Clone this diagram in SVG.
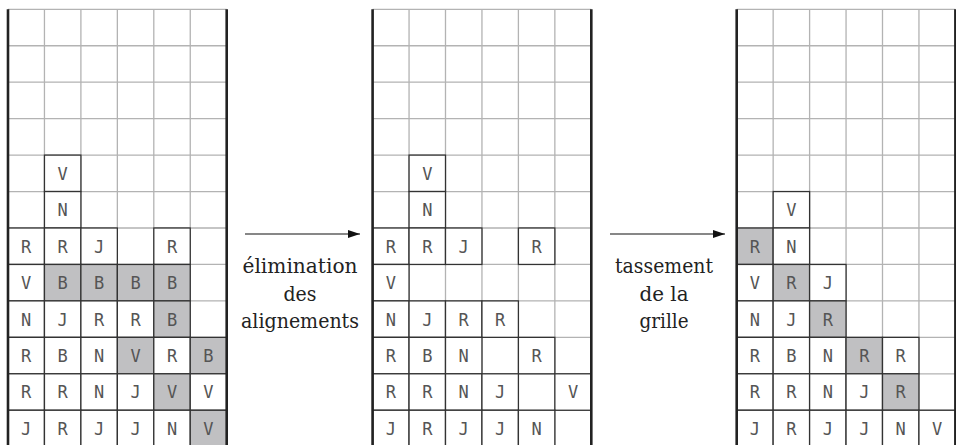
<svg xmlns="http://www.w3.org/2000/svg" width="956" height="445" viewBox="0 0 956 445">
<style>
.bg{fill:#ffffff}
.grid{fill:none;stroke:#b3b3b3;stroke-width:1.3}
.wall{fill:none;stroke:#222;stroke-width:2.6}
.c{fill:#ffffff;stroke:#333;stroke-width:1.3}
.g{fill:#c0c0c2;stroke:#333;stroke-width:1.3}
.t{font-family:'DejaVu Sans Mono',monospace;font-size:17px;fill:#555;text-anchor:middle}
.lbl{font-family:'DejaVu Serif',serif;font-size:20px;fill:#222;text-anchor:middle}
.arr{stroke:#111;stroke-width:1.2;fill:none}
</style>
<defs>
<marker id="ah" markerWidth="12" markerHeight="8" refX="12" refY="4" orient="auto" markerUnits="userSpaceOnUse">
<path d="M0,0 L12,4 L0,8 Z" fill="#111"/>
</marker>
<path id="gl" d="M36.45,0V440M72.9,0V440M109.35,0V440M145.8,0V440M182.25,0V440M0,0H218.7M0,36.45H218.7M0,72.9H218.7M0,109.35H218.7M0,145.8H218.7M0,182.25H218.7M0,218.7H218.7M0,255.15H218.7M0,291.6H218.7M0,328.05H218.7M0,364.5H218.7M0,400.95H218.7M0,437.4H218.7"/>
</defs>
<rect class="bg" x="0" y="0" width="956" height="445"/>

<g id="grid1" transform="translate(8,9.3)">
<use href="#gl" class="grid"/>
<g id="g1-cells">
<rect class="c" x="36.45" y="145.8" width="36.45" height="36.45"/><text class="t" x="54.675" y="170.5">V</text>
<rect class="c" x="36.45" y="182.25" width="36.45" height="36.45"/><text class="t" x="54.675" y="206.95">N</text>
<rect class="c" x="0" y="218.7" width="36.45" height="36.45"/><text class="t" x="18.225" y="243.4">R</text>
<rect class="c" x="36.45" y="218.7" width="36.45" height="36.45"/><text class="t" x="54.675" y="243.4">R</text>
<rect class="c" x="72.9" y="218.7" width="36.45" height="36.45"/><text class="t" x="91.125" y="243.4">J</text>
<rect class="c" x="145.8" y="218.7" width="36.45" height="36.45"/><text class="t" x="164.025" y="243.4">R</text>
<rect class="c" x="0" y="255.15" width="36.45" height="36.45"/><text class="t" x="18.225" y="279.85">V</text>
<rect class="g" x="36.45" y="255.15" width="36.45" height="36.45"/><text class="t" x="54.675" y="279.85">B</text>
<rect class="g" x="72.9" y="255.15" width="36.45" height="36.45"/><text class="t" x="91.125" y="279.85">B</text>
<rect class="g" x="109.35" y="255.15" width="36.45" height="36.45"/><text class="t" x="127.575" y="279.85">B</text>
<rect class="g" x="145.8" y="255.15" width="36.45" height="36.45"/><text class="t" x="164.025" y="279.85">B</text>
<rect class="c" x="0" y="291.6" width="36.45" height="36.45"/><text class="t" x="18.225" y="316.3">N</text>
<rect class="c" x="36.45" y="291.6" width="36.45" height="36.45"/><text class="t" x="54.675" y="316.3">J</text>
<rect class="c" x="72.9" y="291.6" width="36.45" height="36.45"/><text class="t" x="91.125" y="316.3">R</text>
<rect class="c" x="109.35" y="291.6" width="36.45" height="36.45"/><text class="t" x="127.575" y="316.3">R</text>
<rect class="g" x="145.8" y="291.6" width="36.45" height="36.45"/><text class="t" x="164.025" y="316.3">B</text>
<rect class="c" x="0" y="328.05" width="36.45" height="36.45"/><text class="t" x="18.225" y="352.75">R</text>
<rect class="c" x="36.45" y="328.05" width="36.45" height="36.45"/><text class="t" x="54.675" y="352.75">B</text>
<rect class="c" x="72.9" y="328.05" width="36.45" height="36.45"/><text class="t" x="91.125" y="352.75">N</text>
<rect class="g" x="109.35" y="328.05" width="36.45" height="36.45"/><text class="t" x="127.575" y="352.75">V</text>
<rect class="c" x="145.8" y="328.05" width="36.45" height="36.45"/><text class="t" x="164.025" y="352.75">R</text>
<rect class="g" x="182.25" y="328.05" width="36.45" height="36.45"/><text class="t" x="200.475" y="352.75">B</text>
<rect class="c" x="0" y="364.5" width="36.45" height="36.45"/><text class="t" x="18.225" y="389.2">R</text>
<rect class="c" x="36.45" y="364.5" width="36.45" height="36.45"/><text class="t" x="54.675" y="389.2">R</text>
<rect class="c" x="72.9" y="364.5" width="36.45" height="36.45"/><text class="t" x="91.125" y="389.2">N</text>
<rect class="c" x="109.35" y="364.5" width="36.45" height="36.45"/><text class="t" x="127.575" y="389.2">J</text>
<rect class="g" x="145.8" y="364.5" width="36.45" height="36.45"/><text class="t" x="164.025" y="389.2">V</text>
<rect class="c" x="182.25" y="364.5" width="36.45" height="36.45"/><text class="t" x="200.475" y="389.2">V</text>
<rect class="c" x="0" y="400.95" width="36.45" height="36.45"/><text class="t" x="18.225" y="425.65">J</text>
<rect class="c" x="36.45" y="400.95" width="36.45" height="36.45"/><text class="t" x="54.675" y="425.65">R</text>
<rect class="c" x="72.9" y="400.95" width="36.45" height="36.45"/><text class="t" x="91.125" y="425.65">J</text>
<rect class="c" x="109.35" y="400.95" width="36.45" height="36.45"/><text class="t" x="127.575" y="425.65">J</text>
<rect class="c" x="145.8" y="400.95" width="36.45" height="36.45"/><text class="t" x="164.025" y="425.65">N</text>
<rect class="g" x="182.25" y="400.95" width="36.45" height="36.45"/><text class="t" x="200.475" y="425.65">V</text>
</g>
<path class="wall" d="M0,0V440M218.7,0V440"/>
</g>

<g id="grid2" transform="translate(372.6,9.3)">
<use href="#gl" class="grid"/>
<g id="g2-cells">
<rect class="c" x="36.45" y="145.8" width="36.45" height="36.45"/><text class="t" x="54.675" y="170.5">V</text>
<rect class="c" x="36.45" y="182.25" width="36.45" height="36.45"/><text class="t" x="54.675" y="206.95">N</text>
<rect class="c" x="0" y="218.7" width="36.45" height="36.45"/><text class="t" x="18.225" y="243.4">R</text>
<rect class="c" x="36.45" y="218.7" width="36.45" height="36.45"/><text class="t" x="54.675" y="243.4">R</text>
<rect class="c" x="72.9" y="218.7" width="36.45" height="36.45"/><text class="t" x="91.125" y="243.4">J</text>
<rect class="c" x="145.8" y="218.7" width="36.45" height="36.45"/><text class="t" x="164.025" y="243.4">R</text>
<rect class="c" x="0" y="255.15" width="36.45" height="36.45"/><text class="t" x="18.225" y="279.85">V</text>
<rect class="c" x="0" y="291.6" width="36.45" height="36.45"/><text class="t" x="18.225" y="316.3">N</text>
<rect class="c" x="36.45" y="291.6" width="36.45" height="36.45"/><text class="t" x="54.675" y="316.3">J</text>
<rect class="c" x="72.9" y="291.6" width="36.45" height="36.45"/><text class="t" x="91.125" y="316.3">R</text>
<rect class="c" x="109.35" y="291.6" width="36.45" height="36.45"/><text class="t" x="127.575" y="316.3">R</text>
<rect class="c" x="0" y="328.05" width="36.45" height="36.45"/><text class="t" x="18.225" y="352.75">R</text>
<rect class="c" x="36.45" y="328.05" width="36.45" height="36.45"/><text class="t" x="54.675" y="352.75">B</text>
<rect class="c" x="72.9" y="328.05" width="36.45" height="36.45"/><text class="t" x="91.125" y="352.75">N</text>
<rect class="c" x="145.8" y="328.05" width="36.45" height="36.45"/><text class="t" x="164.025" y="352.75">R</text>
<rect class="c" x="0" y="364.5" width="36.45" height="36.45"/><text class="t" x="18.225" y="389.2">R</text>
<rect class="c" x="36.45" y="364.5" width="36.45" height="36.45"/><text class="t" x="54.675" y="389.2">R</text>
<rect class="c" x="72.9" y="364.5" width="36.45" height="36.45"/><text class="t" x="91.125" y="389.2">N</text>
<rect class="c" x="109.35" y="364.5" width="36.45" height="36.45"/><text class="t" x="127.575" y="389.2">J</text>
<rect class="c" x="182.25" y="364.5" width="36.45" height="36.45"/><text class="t" x="200.475" y="389.2">V</text>
<rect class="c" x="0" y="400.95" width="36.45" height="36.45"/><text class="t" x="18.225" y="425.65">J</text>
<rect class="c" x="36.45" y="400.95" width="36.45" height="36.45"/><text class="t" x="54.675" y="425.65">R</text>
<rect class="c" x="72.9" y="400.95" width="36.45" height="36.45"/><text class="t" x="91.125" y="425.65">J</text>
<rect class="c" x="109.35" y="400.95" width="36.45" height="36.45"/><text class="t" x="127.575" y="425.65">J</text>
<rect class="c" x="145.8" y="400.95" width="36.45" height="36.45"/><text class="t" x="164.025" y="425.65">N</text>
</g>
<path class="wall" d="M0,0V440M218.7,0V440"/>
</g>

<g id="grid3" transform="translate(736.7,9.3)">
<use href="#gl" class="grid"/>
<g id="g3-cells">
<rect class="c" x="36.45" y="182.25" width="36.45" height="36.45"/><text class="t" x="54.675" y="206.95">V</text>
<rect class="g" x="0" y="218.7" width="36.45" height="36.45"/><text class="t" x="18.225" y="243.4">R</text>
<rect class="c" x="36.45" y="218.7" width="36.45" height="36.45"/><text class="t" x="54.675" y="243.4">N</text>
<rect class="c" x="0" y="255.15" width="36.45" height="36.45"/><text class="t" x="18.225" y="279.85">V</text>
<rect class="g" x="36.45" y="255.15" width="36.45" height="36.45"/><text class="t" x="54.675" y="279.85">R</text>
<rect class="c" x="72.9" y="255.15" width="36.45" height="36.45"/><text class="t" x="91.125" y="279.85">J</text>
<rect class="c" x="0" y="291.6" width="36.45" height="36.45"/><text class="t" x="18.225" y="316.3">N</text>
<rect class="c" x="36.45" y="291.6" width="36.45" height="36.45"/><text class="t" x="54.675" y="316.3">J</text>
<rect class="g" x="72.9" y="291.6" width="36.45" height="36.45"/><text class="t" x="91.125" y="316.3">R</text>
<rect class="c" x="0" y="328.05" width="36.45" height="36.45"/><text class="t" x="18.225" y="352.75">R</text>
<rect class="c" x="36.45" y="328.05" width="36.45" height="36.45"/><text class="t" x="54.675" y="352.75">B</text>
<rect class="c" x="72.9" y="328.05" width="36.45" height="36.45"/><text class="t" x="91.125" y="352.75">N</text>
<rect class="g" x="109.35" y="328.05" width="36.45" height="36.45"/><text class="t" x="127.575" y="352.75">R</text>
<rect class="c" x="145.8" y="328.05" width="36.45" height="36.45"/><text class="t" x="164.025" y="352.75">R</text>
<rect class="c" x="0" y="364.5" width="36.45" height="36.45"/><text class="t" x="18.225" y="389.2">R</text>
<rect class="c" x="36.45" y="364.5" width="36.45" height="36.45"/><text class="t" x="54.675" y="389.2">R</text>
<rect class="c" x="72.9" y="364.5" width="36.45" height="36.45"/><text class="t" x="91.125" y="389.2">N</text>
<rect class="c" x="109.35" y="364.5" width="36.45" height="36.45"/><text class="t" x="127.575" y="389.2">J</text>
<rect class="g" x="145.8" y="364.5" width="36.45" height="36.45"/><text class="t" x="164.025" y="389.2">R</text>
<rect class="c" x="0" y="400.95" width="36.45" height="36.45"/><text class="t" x="18.225" y="425.65">J</text>
<rect class="c" x="36.45" y="400.95" width="36.45" height="36.45"/><text class="t" x="54.675" y="425.65">R</text>
<rect class="c" x="72.9" y="400.95" width="36.45" height="36.45"/><text class="t" x="91.125" y="425.65">J</text>
<rect class="c" x="109.35" y="400.95" width="36.45" height="36.45"/><text class="t" x="127.575" y="425.65">J</text>
<rect class="c" x="145.8" y="400.95" width="36.45" height="36.45"/><text class="t" x="164.025" y="425.65">N</text>
<rect class="c" x="182.25" y="400.95" width="36.45" height="36.45"/><text class="t" x="200.475" y="425.65">V</text>
</g>
<path class="wall" d="M0,0V440M218.7,0V440"/>
</g>

<g id="connectors">
<line class="arr" x1="245" y1="234" x2="360" y2="234" marker-end="url(#ah)"/>
<line class="arr" x1="610" y1="234" x2="725" y2="234" marker-end="url(#ah)"/>
</g>
<g id="label1">
<text class="lbl" x="300" y="273" textLength="115" lengthAdjust="spacingAndGlyphs">élimination</text>
<text class="lbl" x="300" y="301" textLength="33" lengthAdjust="spacingAndGlyphs">des</text>
<text class="lbl" x="300" y="328" textLength="118" lengthAdjust="spacingAndGlyphs">alignements</text>
</g>
<g id="label2">
<text class="lbl" x="664" y="273" textLength="98" lengthAdjust="spacingAndGlyphs">tassement</text>
<text class="lbl" x="664" y="301" textLength="49" lengthAdjust="spacingAndGlyphs">de la</text>
<text class="lbl" x="664" y="328" textLength="49" lengthAdjust="spacingAndGlyphs">grille</text>
</g>
</svg>
